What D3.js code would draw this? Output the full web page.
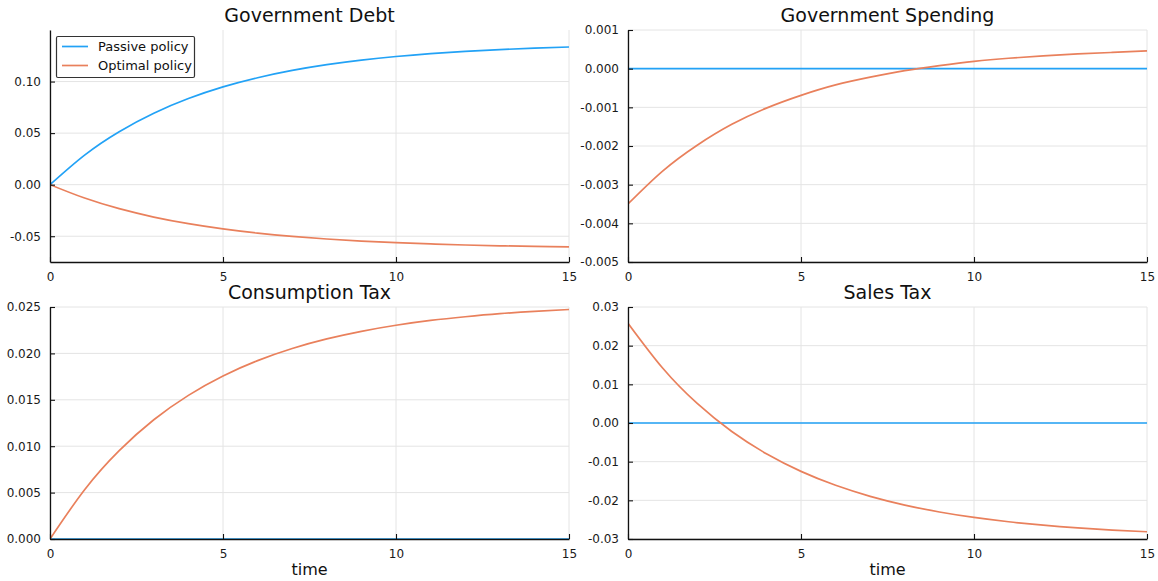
<!DOCTYPE html>
<html>
<head>
<meta charset="utf-8">
<script src="https://cdn.jsdelivr.net/npm/d3@7"></script>
<style>
  html, body { margin: 0; padding: 0; background: #fff; }
  svg { display: block; font-family: "DejaVu Sans", sans-serif; }
  .tick text { fill: #1a1a1a; }
</style>
</head>
<body>
<svg id="chart" width="1158" height="581"></svg>
<script>
// time grid (periods after the shock)
const time = [0, 1, 2, 3, 4, 5, 6, 7, 8, 9, 10, 11, 12, 13, 14, 15];

// impulse responses
const debtPassive  = [0, 0.0287, 0.0514, 0.0693, 0.0835, 0.0948, 0.1037, 0.1108, 0.1164, 0.1208, 0.1243, 0.1271, 0.1293, 0.1310, 0.1324, 0.1335];
const debtOptimal  = [0, -0.0130, -0.0233, -0.0314, -0.0378, -0.0429, -0.0470, -0.0502, -0.0527, -0.0547, -0.0563, -0.0575, -0.0585, -0.0593, -0.0599, -0.0604];
const spendPassive = [0, 0, 0, 0, 0, 0, 0, 0, 0, 0, 0, 0, 0, 0, 0, 0];
const spendOptimal = [-0.00350, -0.00265, -0.00198, -0.00144, -0.00102, -0.00069, -0.00042, -0.00022, -0.00005, 0.00008, 0.00019, 0.00027, 0.00033, 0.00038, 0.00042, 0.00046];
const ctaxPassive  = [0, 0, 0, 0, 0, 0, 0, 0, 0, 0, 0, 0, 0, 0, 0, 0];
const ctaxOptimal  = [0, 0.00531, 0.00952, 0.01285, 0.01548, 0.01757, 0.01922, 0.02053, 0.02156, 0.02238, 0.02303, 0.02355, 0.02395, 0.02428, 0.02453, 0.02473];
const staxPassive  = [0, 0, 0, 0, 0, 0, 0, 0, 0, 0, 0, 0, 0, 0, 0, 0];
const staxOptimal  = [0.0258, 0.01422, 0.00505, -0.00221, -0.00795, -0.01251, -0.01611, -0.01896, -0.02122, -0.02301, -0.02442, -0.02554, -0.02643, -0.02713, -0.02769, -0.02813];

// axis ticks
const xTicks = [0, 5, 10, 15];
const debtTicks  = [-0.05, 0.00, 0.05, 0.10];
const spendTicks = [-0.005, -0.004, -0.003, -0.002, -0.001, 0.000, 0.001];
const ctaxTicks  = [0.000, 0.005, 0.010, 0.015, 0.020, 0.025];
const staxTicks  = [-0.03, -0.02, -0.01, 0.00, 0.01, 0.02, 0.03];

const seriesNames = ["Passive policy", "Optimal policy"];
const colors = ["#22a2f6", "#e9805c"];

const panels = [
  { title: "Government Debt",     box: [50, 30, 569, 262],   y: [-0.075, 0.15],   ticks: debtTicks,  fmt: ".2f", series: [debtPassive, debtOptimal],   legend: true,  xlabel: false },
  { title: "Government Spending", box: [628, 30, 1147, 262], y: [-0.005, 0.001],  ticks: spendTicks, fmt: ".3f", series: [spendPassive, spendOptimal], legend: false, xlabel: false },
  { title: "Consumption Tax",     box: [50, 307, 569, 539],  y: [0, 0.025],       ticks: ctaxTicks,  fmt: ".3f", series: [ctaxPassive, ctaxOptimal],   legend: false, xlabel: true },
  { title: "Sales Tax",           box: [628, 307, 1147, 539],y: [-0.03, 0.03],    ticks: staxTicks,  fmt: ".2f", series: [staxPassive, staxOptimal],   legend: false, xlabel: true }
];

const svg = d3.select("#chart");
const minus = s => s.replace("\u2212", "-");

panels.forEach(p => {
  const [x0, y0, x1, y1] = p.box;
  const x = d3.scaleLinear().domain([0, 15]).range([x0, x1]);
  const y = d3.scaleLinear().domain(p.y).range([y1, y0]);
  const g = svg.append("g");

  // grid
  g.append("g").selectAll("line.vx").data(xTicks).join("line")
    .attr("x1", d => x(d)).attr("x2", d => x(d)).attr("y1", y0).attr("y2", y1)
    .attr("stroke", "#e4e4e4").attr("stroke-width", 1);
  g.append("g").selectAll("line.hy").data(p.ticks).join("line")
    .attr("x1", x0).attr("x2", x1).attr("y1", d => y(d)).attr("y2", d => y(d))
    .attr("stroke", "#e4e4e4").attr("stroke-width", 1);

  // lines
  const clipId = "clip" + x0 + "_" + y0;
  svg.append("clipPath").attr("id", clipId).append("rect")
    .attr("x", x0).attr("y", y0 - 1).attr("width", x1 - x0 + 1).attr("height", y1 - y0 + 2);
  const line = d3.line().x((d, i) => x(time[i])).y(d => y(d)).curve(d3.curveNatural);
  p.series.forEach((s, k) => {
    g.append("path").datum(s).attr("d", line)
      .attr("fill", "none").attr("stroke", colors[k]).attr("stroke-width", 1.7)
      .attr("clip-path", "url(#" + clipId + ")");
  });

  // axes
  const xAxis = d3.axisBottom(x).tickValues(xTicks).tickFormat(d3.format("d"))
    .tickSizeInner(-5).tickSizeOuter(0).tickPadding(10);
  const gx = g.append("g").attr("transform", `translate(0,${y1})`).call(xAxis);
  const yAxis = d3.axisLeft(y).tickValues(p.ticks).tickFormat(d => minus(d3.format(p.fmt)(d)))
    .tickSizeInner(-5).tickSizeOuter(0).tickPadding(9);
  const gy = g.append("g").attr("transform", `translate(${x0},0)`).call(yAxis);
  [gx, gy].forEach(a => {
    a.select(".domain").attr("stroke", "#111").attr("stroke-width", 1.3);
    a.selectAll(".tick line").attr("stroke", "#111").attr("stroke-width", 1.1);
    a.selectAll(".tick text").attr("font-size", 12).attr("font-family", "DejaVu Sans, sans-serif");
  });
  gx.selectAll(".tick text").attr("dy", "0.71em");

  // title
  g.append("text").attr("x", (x0 + x1) / 2).attr("y", y0 - 8)
    .attr("text-anchor", "middle").attr("font-size", 19).attr("fill", "#111").text(p.title);

  if (p.xlabel) {
    g.append("text").attr("x", (x0 + x1) / 2).attr("y", y1 + 36)
      .attr("text-anchor", "middle").attr("font-size", 16).attr("fill", "#111").text("time");
  }

  if (p.legend) {
    const lg = g.append("g").attr("transform", `translate(${x0 + 6},${y0 + 6})`);
    lg.append("rect").attr("x", 0.5).attr("y", 0.5).attr("width", 138).attr("height", 41).attr("rx", 1.5)
      .attr("fill", "#fff").attr("stroke", "#333").attr("stroke-width", 1.2);
    seriesNames.forEach((n, k) => {
      const yy = 10.5 + k * 19;
      lg.append("line").attr("x1", 6).attr("x2", 32).attr("y1", yy).attr("y2", yy)
        .attr("stroke", colors[k]).attr("stroke-width", 1.7);
      lg.append("text").attr("x", 42).attr("y", yy).attr("dy", "0.35em")
        .attr("font-size", 13).attr("fill", "#111").text(n);
    });
  }
});
</script>
</body>
</html>
